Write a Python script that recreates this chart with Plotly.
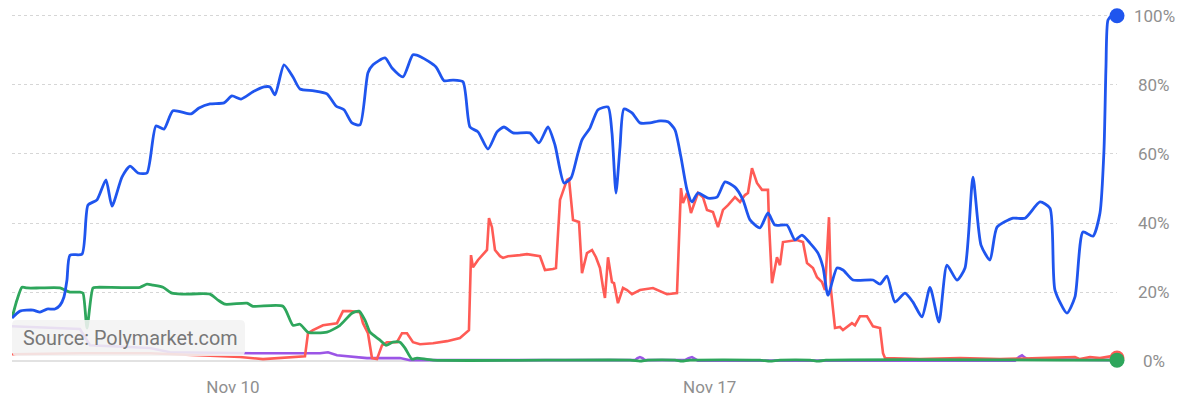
import numpy as np
import pandas as pd
import plotly.graph_objects as go

# Time positions as fractional day-of-November 2024; values in percent
blue_day = [6.755, 6.872, 7.063, 7.166, 7.269, 7.386, 7.460, 7.518, 7.562, 7.606, 7.783, 7.871, 8.003, 8.135, 8.223,
            8.370, 8.488, 8.605, 8.737, 8.869, 8.987, 9.119, 9.383, 9.501, 9.662, 9.868, 9.985, 10.117, 10.294, 10.455,
            10.543, 10.617, 10.749, 10.881, 10.984, 11.189, 11.380, 11.512, 11.630, 11.747, 11.865, 11.982, 12.056,
            12.232, 12.335, 12.496, 12.643, 12.761, 12.981, 13.098, 13.230, 13.377, 13.480, 13.598, 13.744, 13.877,
            13.979, 14.112, 14.361, 14.493, 14.625, 14.728, 14.860, 14.963, 15.051, 15.125, 15.242, 15.360, 15.507,
            15.565, 15.624, 15.683, 15.741, 15.859, 15.976, 16.123, 16.270, 16.388, 16.490, 16.578, 16.667, 16.740,
            16.828, 16.975, 17.107, 17.225, 17.371, 17.489, 17.592, 17.738, 17.856, 17.959, 18.135, 18.252, 18.355,
            18.473, 18.590, 18.664, 18.737, 18.869, 18.957, 19.104, 19.398, 19.501, 19.603, 19.721, 19.868, 19.985,
            20.117, 20.235, 20.367, 20.484, 20.631, 20.749, 20.866, 20.984, 21.116, 21.219, 21.454, 21.630, 21.850,
            21.997, 22.070, 22.246, 22.364, 22.481, 22.628, 22.731, 22.790, 22.819, 22.849, 22.907, 22.981]
blue_val = [12.5, 14.5, 14.8, 14.2, 15.1, 15.1, 16.2, 18.6, 23.5, 30.7, 31.0, 45.2, 46.7, 52.5, 44.9,
            53.3, 56.5, 54.5, 54.5, 68.1, 67.2, 72.5, 71.6, 73.3, 74.5, 74.8, 76.8, 75.9, 78.0, 79.4,
            79.4, 77.1, 85.8, 82.3, 78.8, 78.3, 77.4, 73.9, 72.8, 69.0, 68.4, 83.5, 85.8,
            87.8, 84.9, 82.3, 88.7, 88.1, 85.2, 81.2, 81.4, 80.9, 67.8, 66.4, 61.4, 66.4,
            67.8, 66.1, 66.1, 63.2, 67.8, 62.6, 51.6, 53.0, 59.1, 64.1, 67.5, 72.8, 73.6,
            66.1, 48.7, 62.0, 73.0, 71.9, 69.0, 69.0, 69.6, 69.3, 67.0, 59.1, 49.6, 46.1,
            48.7, 47.2, 47.5, 51.9, 50.4, 46.7, 40.9, 38.6, 42.9, 39.4, 39.4, 35.1, 36.5,
            34.2, 31.3, 27.2, 19.1, 27.0, 26.4, 23.5, 23.5, 22.3, 24.6, 17.1, 19.7, 17.1,
            12.8, 21.4, 11.3, 27.8, 23.5, 27.0, 53.3, 33.6, 29.3, 38.8, 41.4, 41.4, 46.1,
            44.3, 20.6, 13.9, 18.6, 37.4, 36.2, 42.9, 61.2, 85.2, 98.8, 100.0, 100.0]

red_day = [6.755, 7.753, 8.781, 9.515, 10.103, 10.441, 10.837, 11.057, 11.101, 11.175, 11.322, 11.527, 11.615,
           11.718, 11.865, 11.909, 11.982, 12.041, 12.114, 12.188, 12.261, 12.408, 12.482, 12.555, 12.643, 12.746,
           12.937, 13.142, 13.333, 13.465, 13.495, 13.524, 13.598, 13.700, 13.730, 13.759, 13.803, 13.847, 13.921,
           13.965, 14.038, 14.214, 14.317, 14.508, 14.581, 14.699, 14.743, 14.802, 14.904, 14.934, 14.993, 15.081,
           15.125, 15.198, 15.272, 15.330, 15.389, 15.433, 15.462, 15.507, 15.565, 15.595, 15.653, 15.727, 15.786,
           15.859, 15.976, 16.167, 16.373, 16.520, 16.578, 16.608, 16.667, 16.725, 16.828, 16.901, 16.960, 17.048,
           17.122, 17.195, 17.269, 17.371, 17.445, 17.518, 17.562, 17.621, 17.694, 17.768, 17.856, 17.871, 17.915,
           17.988, 18.032, 18.076, 18.282, 18.370, 18.429, 18.517, 18.576, 18.649, 18.693, 18.752, 18.781, 18.840,
           18.913, 18.957, 19.089, 19.133, 19.207, 19.310, 19.398, 19.501, 19.545, 19.574, 20.088, 20.675, 21.263,
           21.850, 22.364, 22.437, 22.584, 22.731, 22.878, 22.981]
red_val = [2.0, 2.3, 2.3, 1.7, 1.2, 0.6, 1.2, 1.4, 8.1, 9.0, 10.4, 11.0, 14.5,
           14.5, 14.2, 11.0, 8.1, 0.9, 0.6, 4.6, 5.5, 5.5, 8.1, 8.1, 5.5, 4.9,
           5.2, 5.8, 6.7, 9.0, 30.7, 27.2, 29.3, 31.6, 32.2, 41.4, 38.8, 32.2, 30.4,
           29.9, 30.4, 30.7, 31.0, 30.4, 26.4, 26.7, 27.0, 46.7, 52.5, 52.8, 40.9, 40.3,
           25.5, 31.3, 32.2, 30.1, 27.0, 21.4, 18.3, 30.1, 22.9, 22.6, 16.8, 21.2, 20.6,
           19.4, 20.6, 21.2, 19.4, 19.7, 50.1, 45.8, 48.7, 42.9, 48.7, 47.5, 43.8, 43.2,
           38.8, 43.8, 45.2, 47.5, 46.1, 48.1, 48.7, 55.9, 51.6, 49.6, 49.6, 40.0, 22.6,
           30.1, 27.8, 34.5, 35.1, 34.5, 28.4, 27.0, 24.3, 22.9, 20.6, 41.7, 20.6, 9.6,
           9.9, 9.0, 11.0, 10.4, 13.0, 13.0, 10.1, 9.6, 2.3, 0.9, 0.6, 0.9, 0.6,
           0.9, 1.2, 0.6, 1.2, 0.9, 1.4, 0.9]

green_day = [6.755, 6.828, 6.902, 6.975, 7.166, 7.460, 7.606, 7.753, 7.797, 7.856, 7.944, 8.003, 8.634, 8.737,
             8.825, 8.972, 9.104, 9.266, 9.662, 9.780, 9.883, 10.206, 10.294, 10.734, 10.881, 10.984, 11.101,
             11.380, 11.571, 11.747, 11.850, 11.938, 12.012, 12.159, 12.247, 12.349, 12.452, 12.526, 12.628,
             12.702, 12.937, 15.830, 15.976, 16.094, 16.490, 16.593, 16.711, 17.738, 17.885, 18.032, 18.473,
             18.590, 18.708, 22.981]
green_val = [12.5, 17.7, 21.4, 21.2, 21.2, 21.2, 20.0, 20.0, 19.7, 9.6, 21.2, 21.4, 21.4, 22.3,
             22.0, 21.4, 19.7, 19.4, 19.4, 17.7, 16.5, 16.8, 15.9, 15.9, 10.4, 10.7, 8.4,
             8.4, 10.4, 13.9, 14.5, 11.9, 8.4, 6.1, 4.6, 5.5, 5.5, 3.8, 0.6,
             0.9, 0.3, 0.3, 0.0, 0.3, 0.3, 0.0, 0.3, 0.3, 0.0, 0.3, 0.3,
             0.0, 0.3, 0.3]

purple_day = [6.755, 7.753, 7.900, 8.781, 9.075, 10.103, 10.294, 11.278, 11.395, 11.527, 11.968, 12.452,
              12.599, 15.389, 15.903, 15.940, 15.976, 16.013, 16.050, 16.637, 16.690, 16.740, 16.785, 16.828,
              21.483, 21.540, 21.586, 21.630, 21.674, 22.981]
purple_val = [10.1, 9.3, 4.6, 3.8, 2.6, 2.3, 2.3, 2.3, 2.6, 1.7, 0.9, 0.9,
              0.3, 0.3, 0.3, 0.9, 1.2, 0.9, 0.3, 0.3, 0.9, 1.2, 0.6, 0.15,
              0.15, 1.2, 1.7, 1.0, 0.6, 0.3]

y_ticks = [0, 20, 40, 60, 80, 100]
y_labels = ["0%", "20%", "40%", "60%", "80%", "100%"]
x_tick_dates = ["2024-11-10", "2024-11-17"]
x_tick_labels = ["Nov 10", "Nov 17"]
source_text = "Source: Polymarket.com"

BASE = pd.Timestamp("2024-11-01")


def to_dates(days):
    return BASE + pd.to_timedelta(np.array(days) - 1.0, unit="D")


BLUE = "#1f55ee"
RED = "#ff5b55"
GREEN = "#2ea65c"
PURPLE = "#9b55e6"

fig = go.Figure()

series = [
    (purple_day, purple_val, PURPLE, "linear", 2.6),
    (red_day, red_val, RED, "linear", 2.6),
    (green_day, green_val, GREEN, "spline", 2.8),
    (blue_day, blue_val, BLUE, "spline", 2.8),
]
for days, vals, col, shape, w in series:
    d = to_dates(days)
    line = dict(color=col, width=w, shape=shape)
    if shape == "spline":
        line["smoothing"] = 0.6
    fig.add_trace(go.Scatter(x=d, y=vals, mode="lines", line=line,
                             hoverinfo="skip", showlegend=False))

# end markers: red under green, then green, then blue
for days, vals, col, sz in [(red_day, red_val, RED, 15), (green_day, green_val, GREEN, 15), (blue_day, blue_val, BLUE, 15)]:
    d = to_dates(days)
    fig.add_trace(go.Scatter(x=[d[-1]], y=[vals[-1]], mode="markers",
                             marker=dict(color=col, size=sz), cliponaxis=False,
                             hoverinfo="skip", showlegend=False))

start = to_dates(blue_day)[0]
end = to_dates(blue_day)[-1]

L, R, T, B = 12, 75, 2, 30
W, H = 1192, 405
plot_w = W - L - R
plot_h = H - T - B

fig.update_layout(
    width=W, height=H,
    margin=dict(l=L, r=R, t=T, b=B),
    paper_bgcolor="white", plot_bgcolor="white",
    font=dict(family="Roboto, Arial, sans-serif", color="#8f8f8f", size=17),
    xaxis=dict(type="date", range=[start, end], tickvals=x_tick_dates, ticktext=x_tick_labels,
               showgrid=False, zeroline=False, showline=False, ticks="",
               tickfont=dict(size=17, color="#8f8f8f")),
    yaxis=dict(range=[-4, 104], tickvals=y_ticks, showticklabels=False,
               showgrid=True, gridcolor="#d6d6d6", griddash="dot", gridwidth=1,
               zeroline=True, zerolinecolor="#e2e2e2", zerolinewidth=2, showline=False),
)

# right-hand percentage labels, centred under each other
label_x = (1154 - L) / plot_w
for v, t in zip(y_ticks, y_labels):
    fig.add_annotation(x=label_x, xref="paper", y=v, yref="y", text=t, showarrow=False,
                       xanchor="center", yanchor="middle",
                       font=dict(size=17, color="#8f8f8f"))

# source box (rounded rectangle) with text
def px_x(p):
    return (p - L) / plot_w


def px_y(p):
    return (H - B - p) / plot_h


x0, x1 = px_x(12), px_x(245)
y0, y1 = px_y(356), px_y(320)
rx, ry = 5 / plot_w, 5 / plot_h
path = (f"M {x0+rx},{y0} L {x1-rx},{y0} Q {x1},{y0} {x1},{y0+ry} L {x1},{y1-ry} "
        f"Q {x1},{y1} {x1-rx},{y1} L {x0+rx},{y1} Q {x0},{y1} {x0},{y1-ry} "
        f"L {x0},{y0+ry} Q {x0},{y0} {x0+rx},{y0} Z")
fig.add_shape(type="path", path=path, xref="paper", yref="paper",
              fillcolor="rgba(242,242,242,0.88)", line=dict(width=0), layer="above")
fig.add_annotation(x=px_x(21), xref="paper", y=px_y(338), yref="paper", text=source_text,
                   showarrow=False, xanchor="left", yanchor="middle",
                   font=dict(size=19.8, color="#777777"))

fig.write_html("out.html", config={"displayModeBar": False},
               post_script="document.body.style.margin='0';document.body.style.overflow='hidden';")
